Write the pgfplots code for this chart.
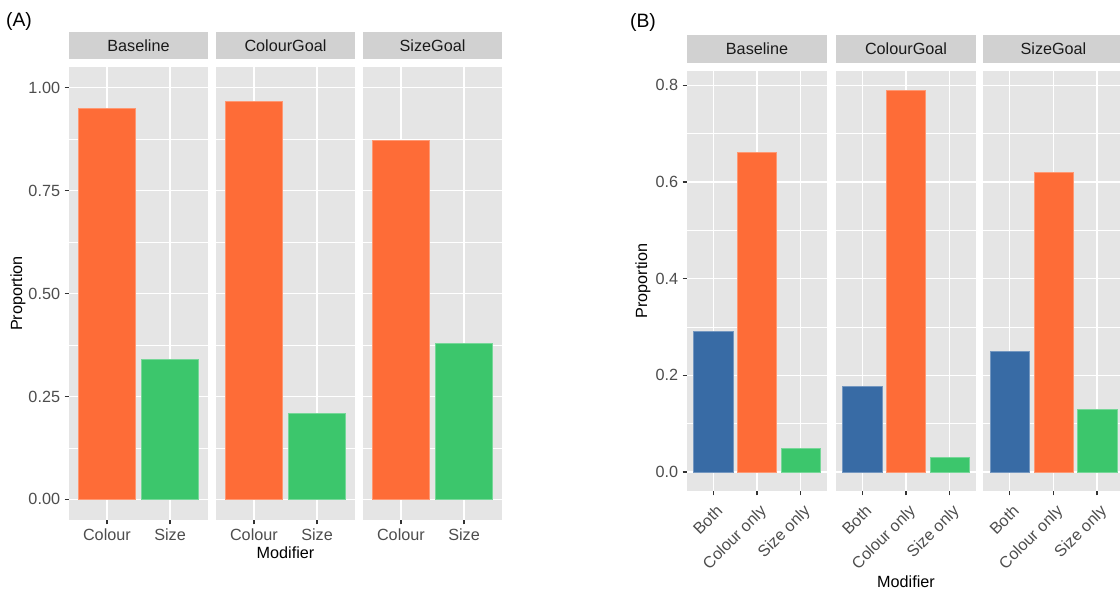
\documentclass[border=0pt]{standalone}
\usepackage{pgfplots}
\pgfplotsset{compat=1.18}
\usepackage{fontspec}
\setmainfont{Liberation Sans}
\definecolor{panelbg}{HTML}{E5E5E5}
\definecolor{stripbg}{HTML}{D1D1D1}
\definecolor{barorange}{HTML}{FE6C37}
\definecolor{barblue}{HTML}{386BA5}
\definecolor{bargreen}{HTML}{3CC66C}
\definecolor{tickgrey}{HTML}{4D4D4D}
\definecolor{tickmark}{HTML}{333333}
\definecolor{striptext}{HTML}{1A1A1A}
\pgfplotsset{
  facet/.style={
    scale only axis, anchor=north west,
    axis background/.style={fill=panelbg},
    axis line style={draw=none},
    xmajorgrids, ymajorgrids, yminorgrids,
    major grid style={white, line width=1.1pt},
    minor grid style={white, line width=0.55pt},
    tick align=outside, xtick pos=left, ytick pos=left,
    major tick length=3.2pt, minor tick length=0pt,
    tick style={tickmark, line width=1.1pt},
    /pgf/number format/assume math mode=true,
    tick label style={font=\fontsize{12.15}{14}\selectfont, text=tickgrey},
    label style={font=\fontsize{12.15}{14}\selectfont, text=black},
    title style={at={(0.5,1)}, anchor=south, fill=stripbg, inner sep=0pt, outer sep=0pt,
      text=striptext, font=\fontsize{12.15}{14}\selectfont},
  },
  facetA/.style={facet, width=104.25pt, height=339.75pt,
    xmin=0.4, xmax=2.6, ymin=-0.05, ymax=1.05,
    xtick={1,2}, xticklabels={Colour,Size},
    ytick={0,0.25,0.5,0.75,1}, minor ytick={0.125,0.375,0.625,0.875},
    yticklabel style={/pgf/number format/.cd, fixed, fixed zerofill, precision=2},
    title style={minimum width=104.25pt, minimum height=20.25pt},
  },
  facetB/.style={facet, width=105pt, height=315pt,
    xmin=0.4, xmax=3.6, ymin=-0.0395, ymax=0.8295,
    xtick={1,2,3}, xticklabels={Both,Colour only,Size only},
    xticklabel style={rotate=45, anchor=north east, yshift=-2pt},
    ytick={0,0.2,0.4,0.6,0.8}, minor ytick={0.1,0.3,0.5,0.7},
    yticklabel style={/pgf/number format/.cd, fixed, fixed zerofill, precision=1},
    title style={minimum width=105pt, minimum height=21pt},
  },
  noy/.style={yticklabels={}, ytick style={draw=none}},
  bars/.style={ybar, bar width=0.9, bar shift=0pt, line width=0.4pt},
}
\begin{document}
\begin{tikzpicture}
\useasboundingbox (0pt,0pt) rectangle (840pt,-442.5pt);
\node[font=\fontsize{14.5}{16}\selectfont, text=black] at (14.25pt,-15.75pt) {(A)};
\node[font=\fontsize{14.5}{16}\selectfont, text=black] at (482.25pt,-16.5pt) {(B)};

% ---- Panel A ----
\begin{axis}[facetA, at={(51.75pt,-50.25pt)}, title={Baseline},
  ylabel={Proportion}, ylabel style={at={(axis description cs:-0.367,0.5)}, anchor=center}]
  \addplot[bars, fill=barorange, draw=barorange!70!white] coordinates {(1,0.95)};
  \addplot[bars, fill=bargreen, draw=bargreen!70!white] coordinates {(2,0.34)};
\end{axis}
\begin{axis}[facetA, noy, at={(162pt,-50.25pt)}, title={ColourGoal},
  xlabel={Modifier}, xlabel style={at={(axis description cs:0.5,-0.0713)}, anchor=center}]
  \addplot[bars, fill=barorange, draw=barorange!70!white] coordinates {(1,0.968)};
  \addplot[bars, fill=bargreen, draw=bargreen!70!white] coordinates {(2,0.21)};
\end{axis}
\begin{axis}[facetA, noy, at={(272.25pt,-50.25pt)}, title={SizeGoal}]
  \addplot[bars, fill=barorange, draw=barorange!70!white] coordinates {(1,0.871)};
  \addplot[bars, fill=bargreen, draw=bargreen!70!white] coordinates {(2,0.379)};
\end{axis}

% ---- Panel B ----
\begin{axis}[facetB, at={(515.25pt,-53.25pt)}, title={Baseline},
  ylabel={Proportion}, ylabel style={at={(axis description cs:-0.314,0.5)}, anchor=center}]
  \addplot[bars, fill=barblue, draw=barblue!70!white] coordinates {(1,0.29)};
  \addplot[bars, fill=barorange, draw=barorange!70!white] coordinates {(2,0.661)};
  \addplot[bars, fill=bargreen, draw=bargreen!70!white] coordinates {(3,0.049)};
\end{axis}
\begin{axis}[facetB, noy, at={(627pt,-53.25pt)}, title={ColourGoal},
  xlabel={Modifier}, xlabel style={at={(axis description cs:0.5,-0.216)}, anchor=center}]
  \addplot[bars, fill=barblue, draw=barblue!70!white] coordinates {(1,0.178)};
  \addplot[bars, fill=barorange, draw=barorange!70!white] coordinates {(2,0.789)};
  \addplot[bars, fill=bargreen, draw=bargreen!70!white] coordinates {(3,0.031)};
\end{axis}
\begin{axis}[facetB, noy, at={(737.6pt,-53.25pt)}, title={SizeGoal}]
  \addplot[bars, fill=barblue, draw=barblue!70!white] coordinates {(1,0.249)};
  \addplot[bars, fill=barorange, draw=barorange!70!white] coordinates {(2,0.619)};
  \addplot[bars, fill=bargreen, draw=bargreen!70!white] coordinates {(3,0.129)};
\end{axis}
\end{tikzpicture}
\end{document}
